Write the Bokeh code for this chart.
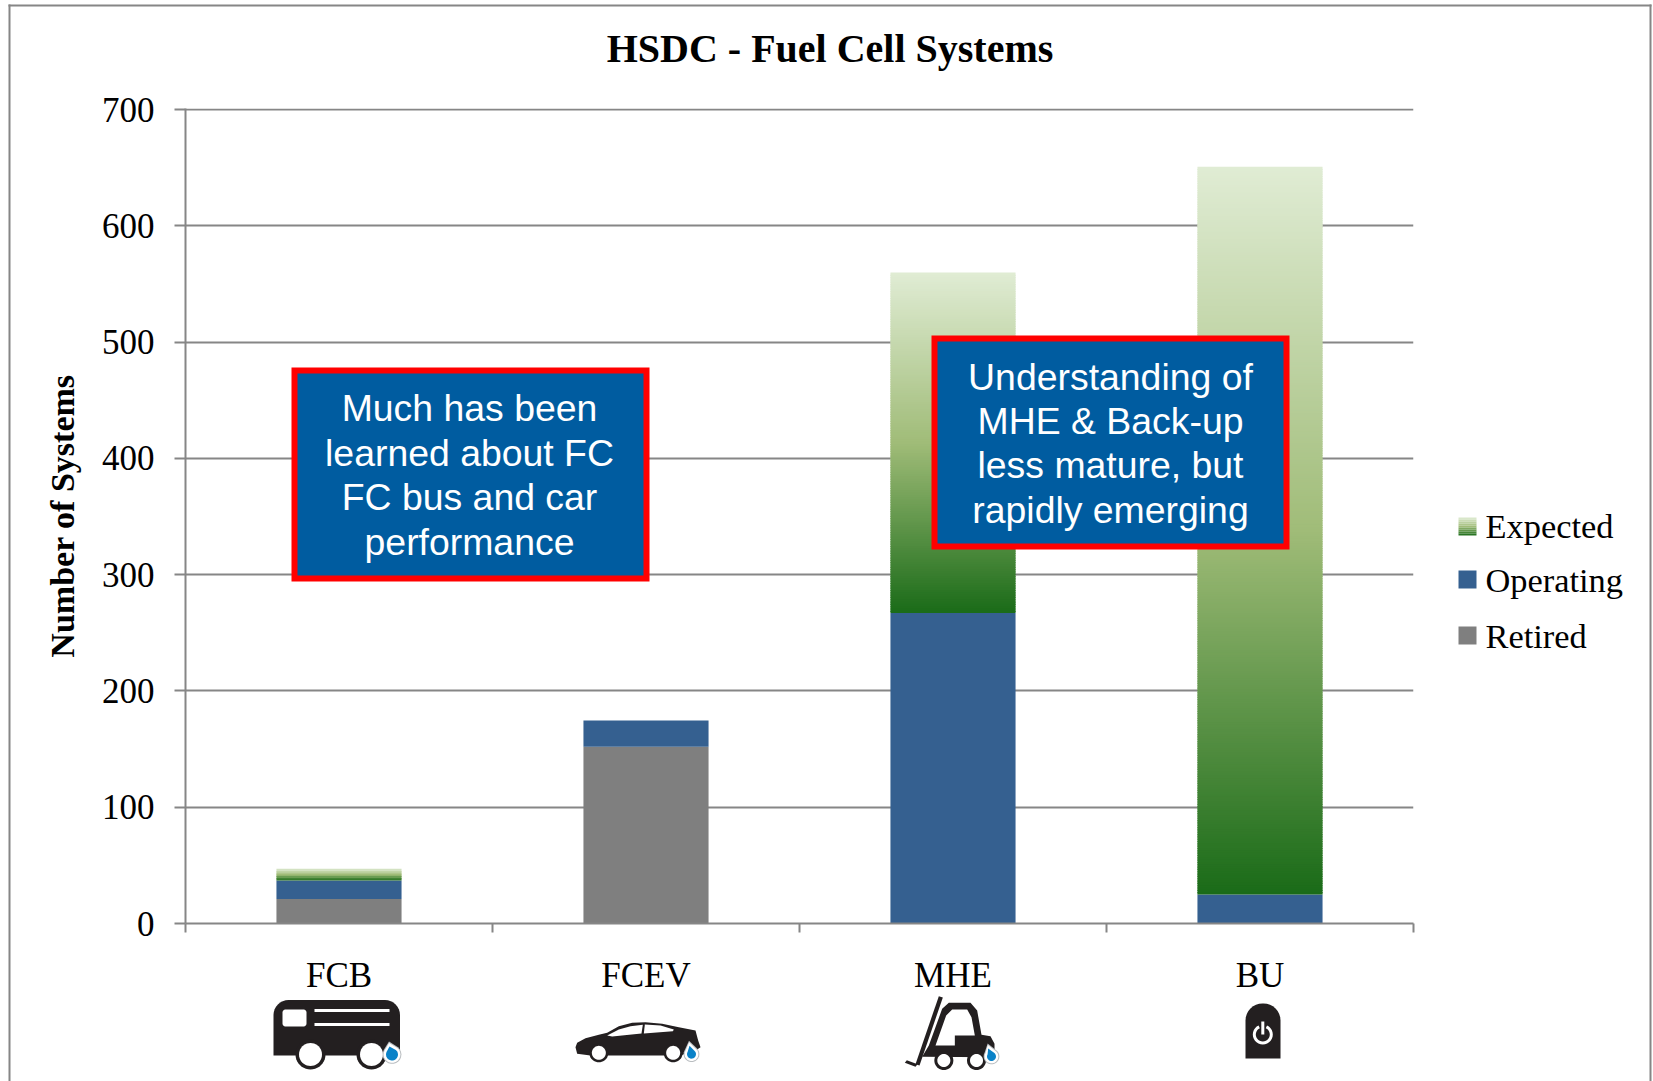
import math
from bokeh.plotting import figure
from bokeh.embed import file_html
from bokeh.resources import INLINE
from bokeh.core.properties import value
from bokeh.models import Range1d, FixedTicker

chart_title = "HSDC - Fuel Cell Systems"
categories = ["FCB", "FCEV", "MHE", "BU"]
retired = [21, 152, 0, 0]
operating = [16, 22.5, 267, 25]
expected = [10, 0, 293, 626]
y_ticks = [0, 100, 200, 300, 400, 500, 600, 700]
series_names = ["Expected", "Operating", "Retired"]

GREY = "#868686"
OP = "#356090"
RET = "#7F7F7F"
INK = "#231F20"
SERIF = "Liberation Serif"
SANS = "Liberation Sans"
STOPS = [(0.0, (224, 236, 212)), (0.5, (160, 188, 120)), (1.0, (26, 107, 24))]
PAGE_W, PAGE_H = 1653, 1081
TEXT_LIFT = 12.5

def grad(t):
    for (a, ca), (b, cb) in zip(STOPS, STOPS[1:]):
        if t <= b:
            f = (t - a) / (b - a)
            return "#%02x%02x%02x" % tuple(round(u + (v - u) * f) for u, v in zip(ca, cb))
    return "#1a6b18"

POS = {"position": "absolute", "left": "0px", "top": "0px"}

p = figure(width=PAGE_W, height=PAGE_H, output_backend="svg", toolbar_location=None,
           x_range=Range1d(0, len(categories)), y_range=Range1d(y_ticks[0], y_ticks[-1] + 1),
           min_border_left=185, min_border_right=240, min_border_top=108, min_border_bottom=158,
           outline_line_color=None, background_fill_color="white", border_fill_color="white", styles=POS)

yax = p.yaxis[0]
yax.ticker = FixedTicker(ticks=y_ticks, minor_ticks=[])
yax.axis_label = "Number of Systems"
yax.axis_label_text_font = SERIF
yax.axis_label_text_font_size = "34px"
yax.axis_label_text_font_style = "bold"
yax.axis_label_text_color = "black"
yax.axis_label_standoff = 18
yax.major_label_text_font = SERIF
yax.major_label_text_font_size = "35px"
yax.major_label_text_color = "black"
yax.major_label_standoff = 20
yax.major_tick_out = 11
yax.major_tick_in = 0
yax.major_tick_line_color = GREY
yax.major_tick_line_width = 2
yax.axis_line_color = GREY
yax.axis_line_width = 2

xax = p.xaxis[0]
centers = [i + 0.5 for i in range(len(categories))]
xax.ticker = FixedTicker(ticks=centers, minor_ticks=list(range(len(categories) + 1)))
xax.major_label_overrides = {c: n for c, n in zip(centers, categories)}
xax.major_label_text_font = SERIF
xax.major_label_text_font_size = "35px"
xax.major_label_text_color = "black"
xax.major_label_standoff = 23
xax.major_tick_line_color = None
xax.major_tick_out = 0
xax.major_tick_in = 0
xax.minor_tick_out = 9
xax.minor_tick_in = 0
xax.minor_tick_line_color = GREY
xax.minor_tick_line_width = 2
xax.axis_line_color = GREY
xax.axis_line_width = 2

p.xgrid.visible = False
p.ygrid.grid_line_color = GREY
p.ygrid.grid_line_width = 2

W = 0.4075
r_top = retired
o_top = [r + o for r, o in zip(retired, operating)]
e_top = [o + e for o, e in zip(o_top, expected)]
p.vbar(x=centers, width=W, bottom=0, top=r_top, fill_color=RET, line_color=None)
p.vbar(x=centers, width=W, bottom=r_top, top=o_top, fill_color=OP, line_color=None)

gl, gr, gb, gt, gc = [], [], [], [], []
for c, b, t in zip(centers, o_top, e_top):
    if t <= b:
        continue
    n = max(5, math.ceil((t - b) / 2))
    for k in range(n):
        gl.append(c - W / 2); gr.append(c + W / 2)
        gt.append(t - (t - b) * k / n)
        gb.append(max(b, t - (t - b) * (k + 1) / n - 1))
        gc.append(grad((k + 0.5) / n))
p.quad(left=gl, right=gr, bottom=gb, top=gt, fill_color=gc, line_color=None)

# ---- transparent sheet over the whole page for the title, callouts, legend, icons and border ----
q = figure(width=PAGE_W, height=PAGE_H, output_backend="svg", toolbar_location=None,
           x_range=Range1d(0, PAGE_W), y_range=Range1d(PAGE_H, 0),
           min_border=0, x_axis_location=None, y_axis_location=None,
           outline_line_color=None, background_fill_alpha=0, border_fill_alpha=0, styles=POS)
q.xgrid.visible = False
q.ygrid.visible = False

def box(x0, y0, x1, y1, fill, line=None, lw=0):
    q.quad(left=[x0], right=[x1], top=[y0], bottom=[y1], fill_color=fill, line_color=line,
           line_width=lw, line_join="miter")

def poly(pts, fill):
    q.patch(x=[a for a, _ in pts], y=[b for _, b in pts], fill_color=fill, line_color=None)

def circle(cx, cy, r, fill):
    poly([(cx + r * math.cos(i * math.pi / 20), cy + r * math.sin(i * math.pi / 20)) for i in range(40)], fill)

def arc(cx, cy, r, a0, a1, n=8):
    return [(cx + r * math.cos(math.radians(a0 + (a1 - a0) * i / n)),
             cy + r * math.sin(math.radians(a0 + (a1 - a0) * i / n))) for i in range(n + 1)]

def rrect(x0, y0, x1, y1, rt, rb=0):
    pts = arc(x0 + rt, y0 + rt, rt, 180, 270) + arc(x1 - rt, y0 + rt, rt, 270, 360)
    if rb:
        pts += arc(x1 - rb, y1 - rb, rb, 0, 90) + arc(x0 + rb, y1 - rb, rb, 90, 180)
    else:
        pts += [(x1, y1), (x0, y1)]
    return pts

def drop(cx, cy, r, tipx, tipy):
    def shape(rr, tx, ty):
        return [(tx, ty)] + arc(cx, cy, rr, -50, 210, 16)
    poly(shape(r + 2.4, tipx - 0.5, tipy - 2), "#B9BDC0")
    poly(shape(r + 1.4, tipx - 0.3, tipy - 0.5), "white")
    poly(shape(r - 1, tipx, tipy + 3), "#0A82C8")

def text(s, x, y, size, font, color="black", align="left", style="normal"):
    q.text(x=[x], y=[y - TEXT_LIFT], text=[s], text_font=value(font), text_font_size=value(size), text_color=color,
           text_align=align, text_baseline="alphabetic", text_font_style=style)

box(8, 4, 1651, 6, GREY)
box(8, 4, 10, PAGE_H, GREY)
box(1649, 4, 1651, PAGE_H, GREY)

text(chart_title, 829.5, 60, "40px", SERIF, "black", "center", "bold")

box(294, 370, 646, 578, "#005CA0", "#FF0000", 6)
for s, b in zip(["Much has been", "learned about FC", "FC bus and car", "performance"], [420, 464.5, 509, 554]):
    text(s, 469, b, "37.4px", SANS, "white", "center")
box(934, 338, 1286, 546, "#005CA0", "#FF0000", 6)
for s, b in zip(["Understanding of", "MHE & Back-up", "less mature, but", "rapidly emerging"], [389, 433, 477, 522]):
    text(s, 1110, b, "37.4px", SANS, "white", "center")

for k in range(9):
    box(1458, 517 + 2 * k, 1476, 519 + 2 * k, grad((k + 0.5) / 9))
box(1458, 570, 1476, 588, OP)
box(1458, 626, 1476, 644, RET)
for s, b in zip(series_names, [537.5, 592, 647.5]):
    text(s, 1485, b, "34.4px", SERIF)

poly(rrect(273, 999.5, 399.5, 1055, 15), INK)
poly(rrect(282, 1009, 306, 1026, 3, 3), "white")
box(314, 1008.5, 389, 1011.5, "white")
box(314, 1022.5, 389, 1025.5, "white")
for cx in (310, 371):
    circle(cx, 1054, 15, INK)
    circle(cx, 1054, 11.5, "white")
drop(391.5, 1054, 7, 389, 1043)

def car_pt(a, b): return (565 + a / 3, 1005 + b / 3)
poly([car_pt(*t) for t in [(30, 125), (35, 112), (60, 98), (100, 88), (125, 82), (160, 62), (200, 52), (240, 50),
                           (290, 55), (340, 65), (390, 75), (398, 105), (405, 125), (395, 132), (345, 150),
                           (75, 150), (35, 145)]], INK)
poly([car_pt(*t) for t in [(125, 90), (160, 72), (195, 62), (232, 58), (228, 84), (140, 93)]], "white")
poly([car_pt(*t) for t in [(238, 57), (285, 60), (325, 72), (322, 77), (235, 84)]], "white")
for a in (100, 323):
    circle(*car_pt(a, 142), 9.5, INK)
    circle(*car_pt(a, 142), 7, "white")
drop(*car_pt(378, 146), 5.5, *car_pt(372, 112))

def fk_pt(a, b): return (895 + a / 3, 985 + b / 3)
poly([fk_pt(*t) for t in [(130, 32), (142, 36), (72, 240), (60, 236)]], INK)
poly([fk_pt(*t) for t in [(28, 232), (34, 224), (66, 236), (60, 244)]], INK)
poly([fk_pt(*t) for t in [(80, 214), (100, 180), (140, 70), (160, 52), (225, 52), (245, 75), (258, 148), (285, 152),
                          (297, 175), (297, 215)]], INK)
poly([fk_pt(*t) for t in [(120, 180), (152, 90), (170, 72), (215, 72), (228, 95), (238, 150), (178, 150), (178, 180)]], "white")
for a in (145, 243):
    circle(*fk_pt(a, 225), 9.5, INK)
    circle(*fk_pt(a, 225), 6.5, "white")
drop(*fk_pt(288, 213), 5.5, *fk_pt(278, 180))

poly(rrect(1245, 1003, 1280, 1058, 17), INK)
ring = arc(1262.3, 1034, 10, -65, 245, 24) + arc(1262.3, 1034, 7, 245, -65, 24)
poly(ring, "white")
box(1260.8, 1021, 1263.8, 1034, "white")

open("out.html", "w").write(file_html([p, q], INLINE))
